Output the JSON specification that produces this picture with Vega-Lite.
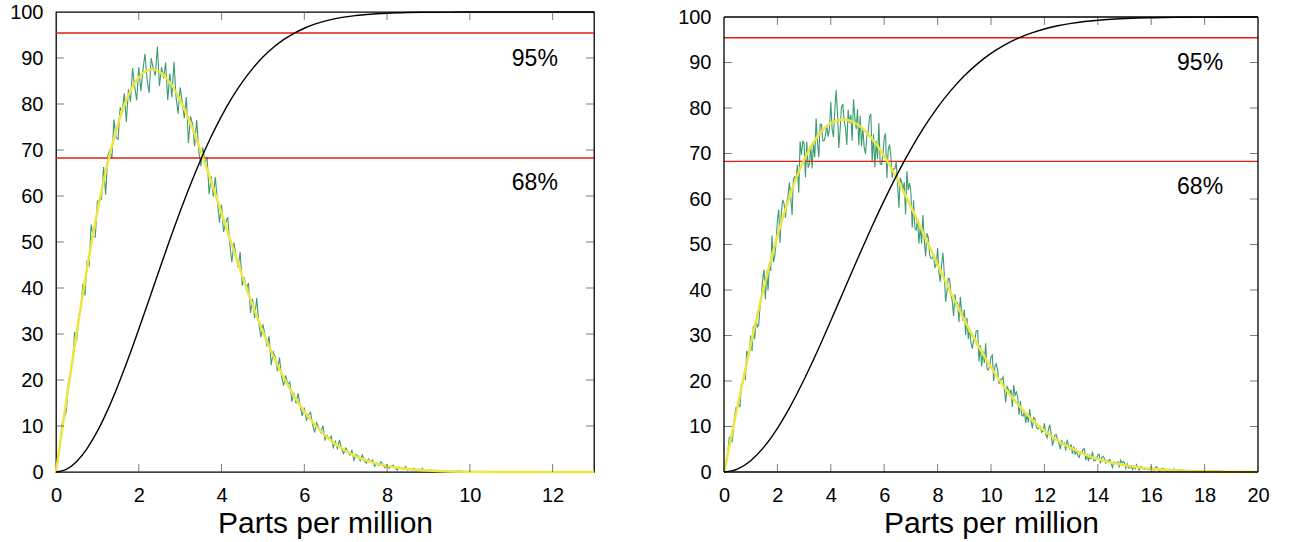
{
 "$schema": "https://vega.github.io/schema/vega-lite/v6.json",
 "background": "white",
 "padding": {"left": 8, "top": 1, "right": 5, "bottom": 0},
 "spacing": 77,
 "config": {
  "view": {"stroke": "black", "strokeWidth": 1.3},
  "font": "Liberation Sans",
  "axis": {"grid": false, "domain": false, "ticks": true, "offset": -8, "tickSize": 8, "tickOpacity": 0, "labelFontSize": 20, "labelColor": "black", "labelFont": "Liberation Sans", "titleFont": "Liberation Sans", "titleFontSize": 30, "titleFontWeight": "normal", "titleColor": "black", "labelFlush": false}
 },
 "datasets": {
  "L": [
   {"x":0,"g":0},{"x":0.05,"g":2.5},{"x":0.1,"g":6.4},{"x":0.15,"g":10.6},{"x":0.2,"g":11.7},{"x":0.25,"g":13.3},{"x":0.3,"g":19.6},{"x":0.35,"g":21.6},{"x":0.4,"g":23.8},{"x":0.45,"g":30.4},{"x":0.5,"g":28.6},{"x":0.55,"g":34.0},{"x":0.6,"g":35.6},{"x":0.65,"g":40.9},{"x":0.7,"g":38.4},{"x":0.75,"g":45.7},{"x":0.8,"g":44.9},{"x":0.85,"g":53.8},{"x":0.9,"g":51.1},{"x":0.95,"g":51.1},{"x":1.0,"g":58.9},{"x":1.05,"g":59.2},{"x":1.1,"g":59.3},{"x":1.15,"g":66.3},{"x":1.2,"g":60.3},{"x":1.25,"g":68.7},{"x":1.3,"g":69.9},{"x":1.35,"g":68.1},{"x":1.4,"g":76.6},{"x":1.45,"g":72.7},{"x":1.5,"g":72.3},{"x":1.55,"g":79.3},{"x":1.6,"g":78.2},{"x":1.65,"g":82.3},{"x":1.7,"g":76.1},{"x":1.75,"g":83.2},{"x":1.8,"g":80.5},{"x":1.85,"g":87.8},{"x":1.9,"g":83.9},{"x":1.95,"g":80.8},{"x":2.0,"g":88.0},{"x":2.05,"g":82.8},{"x":2.1,"g":87.3},{"x":2.15,"g":90.9},{"x":2.2,"g":85.4},{"x":2.25,"g":82.4},{"x":2.3,"g":90.0},{"x":2.35,"g":87.7},{"x":2.4,"g":86.2},{"x":2.45,"g":92.5},{"x":2.5,"g":83.9},{"x":2.55,"g":88.0},{"x":2.6,"g":85.6},{"x":2.65,"g":89.0},{"x":2.7,"g":80.8},{"x":2.75,"g":86.6},{"x":2.8,"g":81.5},{"x":2.85,"g":89.2},{"x":2.9,"g":81.6},{"x":2.95,"g":77.9},{"x":3.0,"g":83.6},{"x":3.05,"g":80.4},{"x":3.1,"g":76.9},{"x":3.15,"g":81.5},{"x":3.2,"g":71.5},{"x":3.25,"g":77.3},{"x":3.3,"g":75.6},{"x":3.35,"g":70.8},{"x":3.4,"g":76.5},{"x":3.45,"g":69.7},{"x":3.5,"g":66.5},{"x":3.55,"g":70.6},{"x":3.6,"g":67.1},{"x":3.65,"g":68.5},{"x":3.7,"g":60.4},{"x":3.75,"g":64.3},{"x":3.8,"g":59.9},{"x":3.85,"g":64.1},{"x":3.9,"g":58.8},{"x":3.95,"g":54.2},{"x":4.0,"g":58.1},{"x":4.05,"g":52.2},{"x":4.1,"g":54.2},{"x":4.15,"g":55.4},{"x":4.2,"g":49.5},{"x":4.25,"g":45.6},{"x":4.3,"g":49.9},{"x":4.35,"g":46.9},{"x":4.4,"g":44.5},{"x":4.45,"g":47.8},{"x":4.5,"g":40.5},{"x":4.55,"g":42.3},{"x":4.6,"g":39.7},{"x":4.65,"g":41.1},{"x":4.7,"g":34.6},{"x":4.75,"g":37.6},{"x":4.8,"g":33.5},{"x":4.85,"g":37.8},{"x":4.9,"g":32.3},{"x":4.95,"g":29.3},{"x":5.0,"g":32.1},{"x":5.05,"g":29.8},{"x":5.1,"g":27.3},{"x":5.15,"g":29.5},{"x":5.2,"g":23.2},{"x":5.25,"g":26.1},{"x":5.3,"g":24.9},{"x":5.35,"g":21.9},{"x":5.4,"g":24.9},{"x":5.45,"g":20.8},{"x":5.5,"g":18.8},{"x":5.55,"g":21.0},{"x":5.6,"g":19.0},{"x":5.65,"g":19.6},{"x":5.7,"g":15.3},{"x":5.75,"g":17.2},{"x":5.8,"g":14.9},{"x":5.85,"g":17.1},{"x":5.9,"g":14.4},{"x":5.95,"g":12.2},{"x":6.0,"g":14.0},{"x":6.05,"g":11.3},{"x":6.1,"g":12.3},{"x":6.15,"g":13.0},{"x":6.2,"g":10.3},{"x":6.25,"g":8.6},{"x":6.3,"g":10.7},{"x":6.35,"g":9.5},{"x":6.4,"g":8.6},{"x":6.45,"g":10.1},{"x":6.5,"g":7.0},{"x":6.55,"g":8.0},{"x":6.6,"g":7.1},{"x":6.65,"g":7.8},{"x":6.7,"g":5.3},{"x":6.75,"g":6.6},{"x":6.8,"g":5.1},{"x":6.85,"g":7.0},{"x":6.9,"g":5.0},{"x":6.95,"g":4.0},{"x":7.0,"g":5.2},{"x":7.05,"g":4.5},{"x":7.1,"g":3.7},{"x":7.15,"g":4.7},{"x":7.2,"g":2.5},{"x":7.25,"g":3.8},{"x":7.3,"g":3.5},{"x":7.35,"g":2.5},{"x":7.4,"g":3.7},{"x":7.45,"g":2.4},{"x":7.5,"g":1.9},{"x":7.55,"g":2.8},{"x":7.6,"g":2.2},{"x":7.65,"g":2.6},{"x":7.7,"g":1.2},{"x":7.75,"g":2.0},{"x":7.8,"g":1.4},{"x":7.85,"g":2.2},{"x":7.9,"g":1.5},{"x":7.95,"g":0.9},{"x":8.0,"g":1.6},{"x":8.05,"g":0.8},{"x":8.1,"g":1.2},{"x":8.15,"g":1.5},{"x":8.2,"g":0.8},{"x":8.25,"g":0.4},{"x":8.3,"g":1.1},{"x":8.35,"g":0.8},{"x":8.4,"g":0.65},{"x":8.45,"g":1.2},{"x":8.5,"g":0.4},{"x":8.55,"g":0.7},{"x":8.6,"g":0.5},{"x":8.65,"g":0.8},{"x":8.7,"g":0.15},{"x":8.75,"g":0.6},{"x":8.8,"g":0.2},{"x":8.85,"g":0.8},{"x":8.9,"g":0.3},{"x":8.95,"g":0.1},{"x":9.0,"g":0.4},{"x":9.25,"g":0.2},{"x":9.5,"g":0.1},{"x":9.75,"g":0.2},{"x":10,"g":0},{"x":10.5,"g":0.1},{"x":11,"g":0},{"x":12,"g":0},{"x":13,"g":0}
  ],
  "LF": [
   {"x":0,"f":0,"c":0},{"x":0.25,"f":15.46,"c":0.58},{"x":0.5,"f":30.38,"c":2.30},{"x":0.75,"f":44.26,"c":5.09},{"x":1.0,"f":56.67,"c":8.87},{"x":1.25,"f":67.22,"c":13.51},{"x":1.5,"f":75.68,"c":18.86},{"x":1.75,"f":81.88,"c":24.76},{"x":2.0,"f":85.76,"c":31.04},{"x":2.25,"f":87.42,"c":37.52},{"x":2.32,"f":87.5,"c":39.35},{"x":2.5,"f":86.99,"c":44.04},{"x":2.75,"f":84.70,"c":50.47},{"x":3.0,"f":80.85,"c":56.66},{"x":3.25,"f":75.75,"c":62.51},{"x":3.5,"f":69.74,"c":67.95},{"x":3.75,"f":63.15,"c":72.92},{"x":4.0,"f":56.27,"c":77.38},{"x":4.25,"f":49.36,"c":81.33},{"x":4.5,"f":42.65,"c":84.76},{"x":4.75,"f":36.32,"c":87.70},{"x":5.0,"f":30.48,"c":90.20},{"x":5.25,"f":25.23,"c":92.27},{"x":5.5,"f":20.59,"c":93.98},{"x":5.75,"f":16.58,"c":95.36},{"x":6.0,"f":13.17,"c":96.47},{"x":6.25,"f":10.32,"c":97.35},{"x":6.5,"f":7.98,"c":98.03},{"x":6.75,"f":6.09,"c":98.55},{"x":7.0,"f":4.59,"c":98.95},{"x":7.25,"f":3.42,"c":99.23},{"x":7.5,"f":2.51,"c":99.46},{"x":7.75,"f":1.82,"c":99.62},{"x":8.0,"f":1.30,"c":99.74},{"x":8.5,"f":0.64,"c":99.88},{"x":9.0,"f":0.30,"c":99.95},{"x":9.5,"f":0.13,"c":99.98},{"x":10,"f":0.05,"c":99.99},{"x":11,"f":0.01,"c":100},{"x":12,"f":0,"c":100},{"x":13,"f":0,"c":100}
  ],
  "R": [
   {"x":0,"g":0},{"x":0.05,"g":1.2},{"x":0.1,"g":2.2},{"x":0.15,"g":4.9},{"x":0.2,"g":7.6},{"x":0.25,"g":7.6},{"x":0.3,"g":6.5},{"x":0.35,"g":9.2},{"x":0.4,"g":12.5},{"x":0.45,"g":14.2},{"x":0.5,"g":14.1},{"x":0.55,"g":14.8},{"x":0.6,"g":14.4},{"x":0.65,"g":19.4},{"x":0.7,"g":19.4},{"x":0.75,"g":21.8},{"x":0.8,"g":20.2},{"x":0.85,"g":26.6},{"x":0.9,"g":25.9},{"x":0.95,"g":25.9},
   {"x":1.0,"g":30.0},{"x":1.05,"g":26.6},{"x":1.1,"g":32.1},{"x":1.15,"g":29.2},{"x":1.2,"g":33.3},{"x":1.25,"g":31.9},{"x":1.3,"g":32.3},{"x":1.35,"g":36.5},{"x":1.4,"g":38.6},{"x":1.45,"g":42.5},{"x":1.5,"g":44.5},{"x":1.55,"g":38.0},{"x":1.6,"g":44.1},{"x":1.65,"g":39.9},{"x":1.7,"g":45.9},{"x":1.75,"g":44.2},{"x":1.8,"g":52.0},{"x":1.85,"g":46.1},{"x":1.9,"g":47.4},{"x":1.95,"g":50.5},
   {"x":2.0,"g":55.4},{"x":2.05,"g":57.7},{"x":2.1,"g":50.4},{"x":2.15,"g":57.3},{"x":2.2,"g":59.8},{"x":2.25,"g":59.0},{"x":2.3,"g":55.9},{"x":2.35,"g":59.3},{"x":2.4,"g":60.8},{"x":2.45,"g":63.6},{"x":2.5,"g":60.5},{"x":2.55,"g":56.5},{"x":2.6,"g":64.4},{"x":2.65,"g":64.9},{"x":2.7,"g":64.2},{"x":2.75,"g":67.5},{"x":2.8,"g":61.4},{"x":2.85,"g":72.7},{"x":2.9,"g":69.7},{"x":2.95,"g":72.8},
   {"x":3.0,"g":72.1},{"x":3.05,"g":64.8},{"x":3.1,"g":72.6},{"x":3.15,"g":66.9},{"x":3.2,"g":67.7},{"x":3.25,"g":71.8},{"x":3.3,"g":66.7},{"x":3.35,"g":72.2},{"x":3.4,"g":69.2},{"x":3.45,"g":77.7},{"x":3.5,"g":72.6},{"x":3.55,"g":69.2},{"x":3.6,"g":76.4},{"x":3.65,"g":76.4},{"x":3.7,"g":72.8},{"x":3.75,"g":72.8},{"x":3.8,"g":74.0},{"x":3.85,"g":76.1},{"x":3.9,"g":73.7},{"x":3.95,"g":75.5},
   {"x":4.0,"g":81.3},{"x":4.05,"g":75.3},{"x":4.1,"g":73.6},{"x":4.15,"g":79.5},{"x":4.2,"g":83.9},{"x":4.25,"g":78.8},{"x":4.3,"g":71.2},{"x":4.35,"g":75.3},{"x":4.4,"g":80.2},{"x":4.45,"g":80.9},{"x":4.5,"g":77.2},{"x":4.55,"g":75.6},{"x":4.6,"g":71.9},{"x":4.65,"g":79.6},{"x":4.7,"g":76.7},{"x":4.75,"g":78.5},{"x":4.8,"g":72.8},{"x":4.85,"g":81.9},{"x":4.9,"g":78.0},{"x":4.95,"g":75.4},
   {"x":5.0,"g":79.7},{"x":5.05,"g":71.8},{"x":5.1,"g":78.3},{"x":5.15,"g":71.6},{"x":5.2,"g":75.6},{"x":5.25,"g":71.4},{"x":5.3,"g":69.9},{"x":5.35,"g":73.8},{"x":5.4,"g":74.8},{"x":5.45,"g":78.1},{"x":5.5,"g":78.7},{"x":5.55,"g":68.1},{"x":5.6,"g":74.2},{"x":5.65,"g":67.0},{"x":5.7,"g":72.8},{"x":5.75,"g":68.8},{"x":5.8,"g":76.7},{"x":5.85,"g":67.7},{"x":5.9,"g":67.6},{"x":5.95,"g":69.5},
   {"x":6.0,"g":73.5},{"x":6.05,"g":74.4},{"x":6.1,"g":64.6},{"x":6.15,"g":70.7},{"x":6.2,"g":72.0},{"x":6.25,"g":69.4},{"x":6.3,"g":64.6},{"x":6.35,"g":66.6},{"x":6.4,"g":66.7},{"x":6.45,"g":68.1},{"x":6.5,"g":63.4},{"x":6.55,"g":58.1},{"x":6.6,"g":64.7},{"x":6.65,"g":63.8},{"x":6.7,"g":61.9},{"x":6.75,"g":63.7},{"x":6.8,"g":56.6},{"x":6.85,"g":66.1},{"x":6.9,"g":62.0},{"x":6.95,"g":63.5},
   {"x":7.0,"g":61.5},{"x":7.05,"g":53.7},{"x":7.1,"g":59.7},{"x":7.15,"g":53.5},{"x":7.2,"g":53.2},{"x":7.25,"g":55.7},{"x":7.3,"g":50.2},{"x":7.35,"g":53.9},{"x":7.4,"g":50.2},{"x":7.45,"g":56.5},{"x":7.5,"g":51.0},{"x":7.55,"g":47.4},{"x":7.6,"g":52.5},{"x":7.65,"g":51.6},{"x":7.7,"g":47.7},{"x":7.75,"g":46.9},{"x":7.8,"g":47.0},{"x":7.85,"g":47.8},{"x":7.9,"g":45.0},{"x":7.95,"g":45.6},
   {"x":8.0,"g":49.2},{"x":8.05,"g":43.8},{"x":8.1,"g":41.8},{"x":8.15,"g":45.6},{"x":8.2,"g":48.2},{"x":8.25,"g":43.7},{"x":8.3,"g":37.4},{"x":8.35,"g":39.7},{"x":8.4,"g":42.6},{"x":8.45,"g":42.4},{"x":8.5,"g":39.2},{"x":8.55,"g":37.5},{"x":8.6,"g":34.3},{"x":8.65,"g":39.1},{"x":8.7,"g":36.6},{"x":8.75,"g":37.3},{"x":8.8,"g":32.9},{"x":8.85,"g":38.5},{"x":8.9,"g":35.4},{"x":8.95,"g":33.2},
   {"x":9.0,"g":35.7},{"x":9.05,"g":30.1},{"x":9.1,"g":33.9},{"x":9.15,"g":29.2},{"x":9.2,"g":31.4},{"x":9.25,"g":28.4},{"x":9.3,"g":27.1},{"x":9.35,"g":29.2},{"x":9.4,"g":29.4},{"x":9.45,"g":31.1},{"x":9.5,"g":31.1},{"x":9.55,"g":24.3},{"x":9.6,"g":27.9},{"x":9.65,"g":23.2},{"x":9.7,"g":26.5},{"x":9.75,"g":23.9},{"x":9.8,"g":28.3},{"x":9.85,"g":22.7},{"x":9.9,"g":22.4},{"x":9.95,"g":23.3},
   {"x":10.0,"g":25.3},{"x":10.05,"g":25.7},{"x":10.1,"g":20.0},{"x":10.15,"g":23.3},{"x":10.2,"g":23.8},{"x":10.25,"g":22.3},{"x":10.3,"g":19.4},{"x":10.35,"g":20.4},{"x":10.4,"g":20.3},{"x":10.45,"g":20.9},{"x":10.5,"g":18.2},{"x":10.55,"g":15.3},{"x":10.6,"g":18.8},{"x":10.65,"g":18.2},{"x":10.7,"g":17.1},{"x":10.75,"g":18.1},{"x":10.8,"g":14.3},{"x":10.85,"g":19.1},{"x":10.9,"g":16.9},{"x":10.95,"g":17.6},
   {"x":11.0,"g":16.5},{"x":11.05,"g":12.6},{"x":11.1,"g":15.6},{"x":11.15,"g":12.5},{"x":11.2,"g":12.3},{"x":11.25,"g":13.5},{"x":11.3,"g":10.8},{"x":11.35,"g":12.7},{"x":11.4,"g":10.9},{"x":11.45,"g":13.8},{"x":11.5,"g":11.2},{"x":11.55,"g":9.6},{"x":11.6,"g":12.0},{"x":11.65,"g":11.6},{"x":11.7,"g":9.9},{"x":11.75,"g":9.5},{"x":11.8,"g":9.6},{"x":11.85,"g":10.0},{"x":11.9,"g":8.7},{"x":11.95,"g":9.0},
   {"x":12.0,"g":10.7},{"x":12.05,"g":8.3},{"x":12.1,"g":7.5},{"x":12.15,"g":9.3},{"x":12.2,"g":10.4},{"x":12.25,"g":8.5},{"x":12.3,"g":5.8},{"x":12.35,"g":6.9},{"x":12.4,"g":8.2},{"x":12.45,"g":8.2},{"x":12.5,"g":6.8},{"x":12.55,"g":6.2},{"x":12.6,"g":5.0},{"x":12.65,"g":7.0},{"x":12.7,"g":6.1},{"x":12.75,"g":6.4},{"x":12.8,"g":4.7},{"x":12.85,"g":7.1},{"x":12.9,"g":5.9},{"x":12.95,"g":5.1},
   {"x":13.0,"g":6.1},{"x":13.05,"g":4.0},{"x":13.1,"g":5.6},{"x":13.15,"g":3.8},{"x":13.2,"g":4.8},{"x":13.25,"g":3.7},{"x":13.3,"g":3.2},{"x":13.35,"g":4.2},{"x":13.4,"g":4.3},{"x":13.45,"g":5.0},{"x":13.5,"g":5.1},{"x":13.55,"g":2.6},{"x":13.6,"g":4.0},{"x":13.65,"g":2.4},{"x":13.7,"g":3.7},{"x":13.75,"g":2.8},{"x":13.8,"g":4.5},{"x":13.85,"g":2.5},{"x":13.9,"g":2.5},{"x":13.95,"g":2.9},
   {"x":14.0,"g":3.7},{"x":14.05,"g":3.9},{"x":14.1,"g":1.9},{"x":14.15,"g":3.2},{"x":14.2,"g":3.4},{"x":14.25,"g":3.0},{"x":14.3,"g":2.0},{"x":14.35,"g":2.5},{"x":14.4,"g":2.5},{"x":14.45,"g":2.8},{"x":14.5,"g":1.9},{"x":14.55,"g":1.0},{"x":14.6,"g":2.2},{"x":14.65,"g":2.1},{"x":14.7,"g":1.8},{"x":14.75,"g":2.2},{"x":14.8,"g":1.0},{"x":14.85,"g":2.6},{"x":14.9,"g":2.0},{"x":14.95,"g":2.3},
   {"x":15.0,"g":2.0},{"x":15.05,"g":0.8},{"x":15.1,"g":1.8},{"x":15.15,"g":0.9},{"x":15.2,"g":0.9},{"x":15.25,"g":1.3},{"x":15.3,"g":0.5},{"x":15.35,"g":1.2},{"x":15.4,"g":0.7},{"x":15.45,"g":1.6},{"x":15.5,"g":0.9},{"x":15.55,"g":0.4},{"x":15.6,"g":1.2},{"x":15.65,"g":1.1},{"x":15.7,"g":0.7},{"x":15.75,"g":0.6},{"x":15.8,"g":0.7},{"x":15.85,"g":0.8},{"x":15.9,"g":0.5},{"x":15.95,"g":0.7},
   {"x":16.0,"g":1.2},{"x":16.05,"g":0.6},{"x":16.1,"g":0.4},{"x":16.15,"g":0.9},{"x":16.2,"g":1.2},{"x":16.25,"g":0.7},{"x":16.3,"g":0.1},{"x":16.35,"g":0.4},{"x":16.4,"g":0.8},{"x":16.45,"g":0.8},{"x":16.5,"g":0.5},{"x":16.55,"g":0.4},{"x":16.6,"g":0.1},{"x":16.65,"g":0.6},{"x":16.7,"g":0.4},{"x":16.75,"g":0.5},{"x":16.8,"g":0.1},{"x":16.85,"g":0.7},{"x":16.9,"g":0.4},{"x":16.95,"g":0.3},
   {"x":17.0,"g":0.5},{"x":17.5,"g":0.2},{"x":18,"g":0.1},{"x":18.5,"g":0.2},{"x":19,"g":0},{"x":19.5,"g":0.1},{"x":20,"g":0}
  ],
  "RF": [
   {"x":0,"f":0,"c":0},{"x":0.5,"f":14.27,"c":0.63},{"x":1.0,"f":28.00,"c":2.49},{"x":1.5,"f":40.69,"c":5.52},{"x":2.0,"f":51.91,"c":9.61},{"x":2.5,"f":61.30,"c":14.60},{"x":3.0,"f":68.63,"c":20.33},{"x":3.5,"f":73.76,"c":26.60},{"x":4.0,"f":76.68,"c":33.24},{"x":4.45,"f":77.5,"c":39.35},{"x":5.0,"f":76.37,"c":46.81},{"x":5.5,"f":73.58,"c":53.41},{"x":6.0,"f":69.42,"c":59.71},{"x":6.5,"f":64.22,"c":65.59},{"x":7.0,"f":58.33,"c":70.98},{"x":7.5,"f":52.04,"c":75.84},{"x":8.0,"f":45.64,"c":80.13},{"x":8.5,"f":39.38,"c":83.87},{"x":9.0,"f":33.43,"c":87.07},{"x":9.5,"f":27.94,"c":89.76},{"x":10.0,"f":22.99,"c":91.99},{"x":10.5,"f":18.63,"c":93.82},{"x":11.0,"f":14.88,"c":95.29},{"x":11.5,"f":11.71,"c":96.45},{"x":12.0,"f":9.08,"c":97.36},{"x":12.5,"f":6.94,"c":98.07},{"x":13.0,"f":5.23,"c":98.60},{"x":13.5,"f":3.89,"c":99.00},{"x":14.0,"f":2.85,"c":99.29},{"x":14.5,"f":2.06,"c":99.50},{"x":15.0,"f":1.47,"c":99.66},{"x":15.5,"f":1.03,"c":99.77},{"x":16.0,"f":0.72,"c":99.84},{"x":16.5,"f":0.49,"c":99.90},{"x":17.0,"f":0.33,"c":99.93},{"x":18.0,"f":0.14,"c":99.97},{"x":19.0,"f":0.06,"c":99.99},{"x":20.0,"f":0.02,"c":100}
  ],
  "lines": [{"v":95.45},{"v":68.27}],
  "LT": [{"x":11.57,"y":89.8,"t":"95%"},{"x":11.57,"y":62.8,"t":"68%"}],
  "RT": [{"x":17.83,"y":89.9,"t":"95%"},{"x":17.83,"y":62.6,"t":"68%"}],
  "Rframe_h": [{"v":0},{"v":100}],
  "Rframe_v": [{"x":0,"y":0,"y2":100},{"x":20,"y":0,"y2":100}],
  "LXB": [{"v":2,"e":0},{"v":4,"e":0},{"v":6,"e":0},{"v":8,"e":0},{"v":10,"e":0},{"v":12,"e":0}],
  "LXU": [{"v":2,"e":100},{"v":4,"e":100},{"v":6,"e":100},{"v":8,"e":100},{"v":10,"e":100},{"v":12,"e":100}],
  "LYL": [{"v":10,"e":0},{"v":20,"e":0},{"v":30,"e":0},{"v":40,"e":0},{"v":50,"e":0},{"v":60,"e":0},{"v":70,"e":0},{"v":80,"e":0},{"v":90,"e":0}],
  "LYR": [{"v":10,"e":13},{"v":20,"e":13},{"v":30,"e":13},{"v":40,"e":13},{"v":50,"e":13},{"v":60,"e":13},{"v":70,"e":13},{"v":80,"e":13},{"v":90,"e":13}],
  "RXB": [{"v":2,"e":0},{"v":4,"e":0},{"v":6,"e":0},{"v":8,"e":0},{"v":10,"e":0},{"v":12,"e":0},{"v":14,"e":0},{"v":16,"e":0},{"v":18,"e":0}],
  "RXU": [{"v":2,"e":100},{"v":4,"e":100},{"v":6,"e":100},{"v":8,"e":100},{"v":10,"e":100},{"v":12,"e":100},{"v":14,"e":100},{"v":16,"e":100},{"v":18,"e":100}],
  "RYR": [{"v":10,"e":20},{"v":20,"e":20},{"v":30,"e":20},{"v":40,"e":20},{"v":50,"e":20},{"v":60,"e":20},{"v":70,"e":20},{"v":80,"e":20},{"v":90,"e":20}]
 },
 "hconcat": [
  {
   "width": 538, "height": 460,
   "layer": [
    {"data": {"name": "L"}, "mark": {"type": "line", "color": "#3a9c70", "strokeWidth": 1.1},
     "encoding": {
      "x": {"field": "x", "type": "quantitative", "scale": {"domain": [0, 13], "nice": false}, "axis": {"orient": "bottom", "values": [0,2,4,6,8,10,12], "title": "Parts per million", "labelPadding": 13, "titlePadding": 3}},
      "y": {"field": "g", "type": "quantitative", "scale": {"domain": [0, 100], "nice": false}, "axis": {"orient": "left", "values": [0,10,20,30,40,50,60,70,80,90,100], "title": null, "labelPadding": 13}}
     }},
    {"data": {"name": "lines"}, "mark": {"type": "rule", "color": "#e51e10", "strokeWidth": 1.4},
     "encoding": {"y": {"field": "v", "type": "quantitative"}}},
    {"data": {"name": "LF"}, "mark": {"type": "line", "color": "#f0e442", "strokeWidth": 2.5, "interpolate": "monotone"},
     "encoding": {"x": {"field": "x", "type": "quantitative"}, "y": {"field": "f", "type": "quantitative"}}},
    {"data": {"name": "LF"}, "mark": {"type": "line", "color": "black", "strokeWidth": 1.4, "interpolate": "monotone"},
     "encoding": {"x": {"field": "x", "type": "quantitative"}, "y": {"field": "c", "type": "quantitative"}}},
    {"data": {"name": "LT"}, "mark": {"type": "text", "fontSize": 23, "font": "Liberation Sans", "color": "black", "align": "center", "baseline": "middle"},
     "encoding": {"x": {"field": "x", "type": "quantitative"}, "y": {"field": "y", "type": "quantitative"}, "text": {"field": "t"}}},
    {"data": {"name": "LXB"}, "mark": {"type": "tick", "orient": "vertical", "size": 8, "thickness": 1, "color": "#444", "yOffset": -4},
     "encoding": {"x": {"field": "v", "type": "quantitative"}, "y": {"field": "e", "type": "quantitative"}}},
    {"data": {"name": "LXU"}, "mark": {"type": "tick", "orient": "vertical", "size": 8, "thickness": 1, "color": "#444", "yOffset": 4},
     "encoding": {"x": {"field": "v", "type": "quantitative"}, "y": {"field": "e", "type": "quantitative"}}},
    {"data": {"name": "LYL"}, "mark": {"type": "tick", "orient": "horizontal", "size": 8, "thickness": 1, "color": "#444", "xOffset": 4},
     "encoding": {"y": {"field": "v", "type": "quantitative"}, "x": {"field": "e", "type": "quantitative"}}},
    {"data": {"name": "LYR"}, "mark": {"type": "tick", "orient": "horizontal", "size": 8, "thickness": 1, "color": "#444", "xOffset": -4},
     "encoding": {"y": {"field": "v", "type": "quantitative"}, "x": {"field": "e", "type": "quantitative"}}}
   ]
  },
  {
   "width": 534, "height": 460,
   "view": {"stroke": null},
   "layer": [
    {"data": {"name": "R"}, "mark": {"type": "line", "color": "#3a9c70", "strokeWidth": 1.1},
     "encoding": {
      "x": {"field": "x", "type": "quantitative", "scale": {"domain": [0, 20], "nice": false}, "axis": {"orient": "bottom", "values": [0,2,4,6,8,10,12,14,16,18,20], "title": "Parts per million", "labelPadding": 13, "titlePadding": 3}},
      "y": {"field": "g", "type": "quantitative", "scale": {"domain": [0, 101.1], "nice": false}, "axis": {"orient": "left", "values": [0,10,20,30,40,50,60,70,80,90,100], "title": null, "labelPadding": 13}}
     }},
    {"data": {"name": "lines"}, "mark": {"type": "rule", "color": "#e51e10", "strokeWidth": 1.4},
     "encoding": {"y": {"field": "v", "type": "quantitative"}}},
    {"data": {"name": "RF"}, "mark": {"type": "line", "color": "#f0e442", "strokeWidth": 2.5, "interpolate": "monotone"},
     "encoding": {"x": {"field": "x", "type": "quantitative"}, "y": {"field": "f", "type": "quantitative"}}},
    {"data": {"name": "RF"}, "mark": {"type": "line", "color": "black", "strokeWidth": 1.4, "interpolate": "monotone"},
     "encoding": {"x": {"field": "x", "type": "quantitative"}, "y": {"field": "c", "type": "quantitative"}}},
    {"data": {"name": "RT"}, "mark": {"type": "text", "fontSize": 23, "font": "Liberation Sans", "color": "black", "align": "center", "baseline": "middle"},
     "encoding": {"x": {"field": "x", "type": "quantitative"}, "y": {"field": "y", "type": "quantitative"}, "text": {"field": "t"}}},
    {"data": {"name": "RXB"}, "mark": {"type": "tick", "orient": "vertical", "size": 8, "thickness": 1, "color": "#444", "yOffset": -4},
     "encoding": {"x": {"field": "v", "type": "quantitative"}, "y": {"field": "e", "type": "quantitative"}}},
    {"data": {"name": "RXU"}, "mark": {"type": "tick", "orient": "vertical", "size": 8, "thickness": 1, "color": "#444", "yOffset": 4},
     "encoding": {"x": {"field": "v", "type": "quantitative"}, "y": {"field": "e", "type": "quantitative"}}},
    {"data": {"name": "LYL"}, "mark": {"type": "tick", "orient": "horizontal", "size": 8, "thickness": 1, "color": "#444", "xOffset": 4},
     "encoding": {"y": {"field": "v", "type": "quantitative"}, "x": {"field": "e", "type": "quantitative"}}},
    {"data": {"name": "RYR"}, "mark": {"type": "tick", "orient": "horizontal", "size": 8, "thickness": 1, "color": "#444", "xOffset": -4},
     "encoding": {"y": {"field": "v", "type": "quantitative"}, "x": {"field": "e", "type": "quantitative"}}},
    {"data": {"name": "Rframe_h"}, "mark": {"type": "rule", "color": "black", "strokeWidth": 1.3},
     "encoding": {"y": {"field": "v", "type": "quantitative"}}},
    {"data": {"name": "Rframe_v"}, "mark": {"type": "rule", "color": "black", "strokeWidth": 1.3},
     "encoding": {"x": {"field": "x", "type": "quantitative"}, "y": {"field": "y", "type": "quantitative"}, "y2": {"field": "y2"}}}
   ]
  }
 ]
}
